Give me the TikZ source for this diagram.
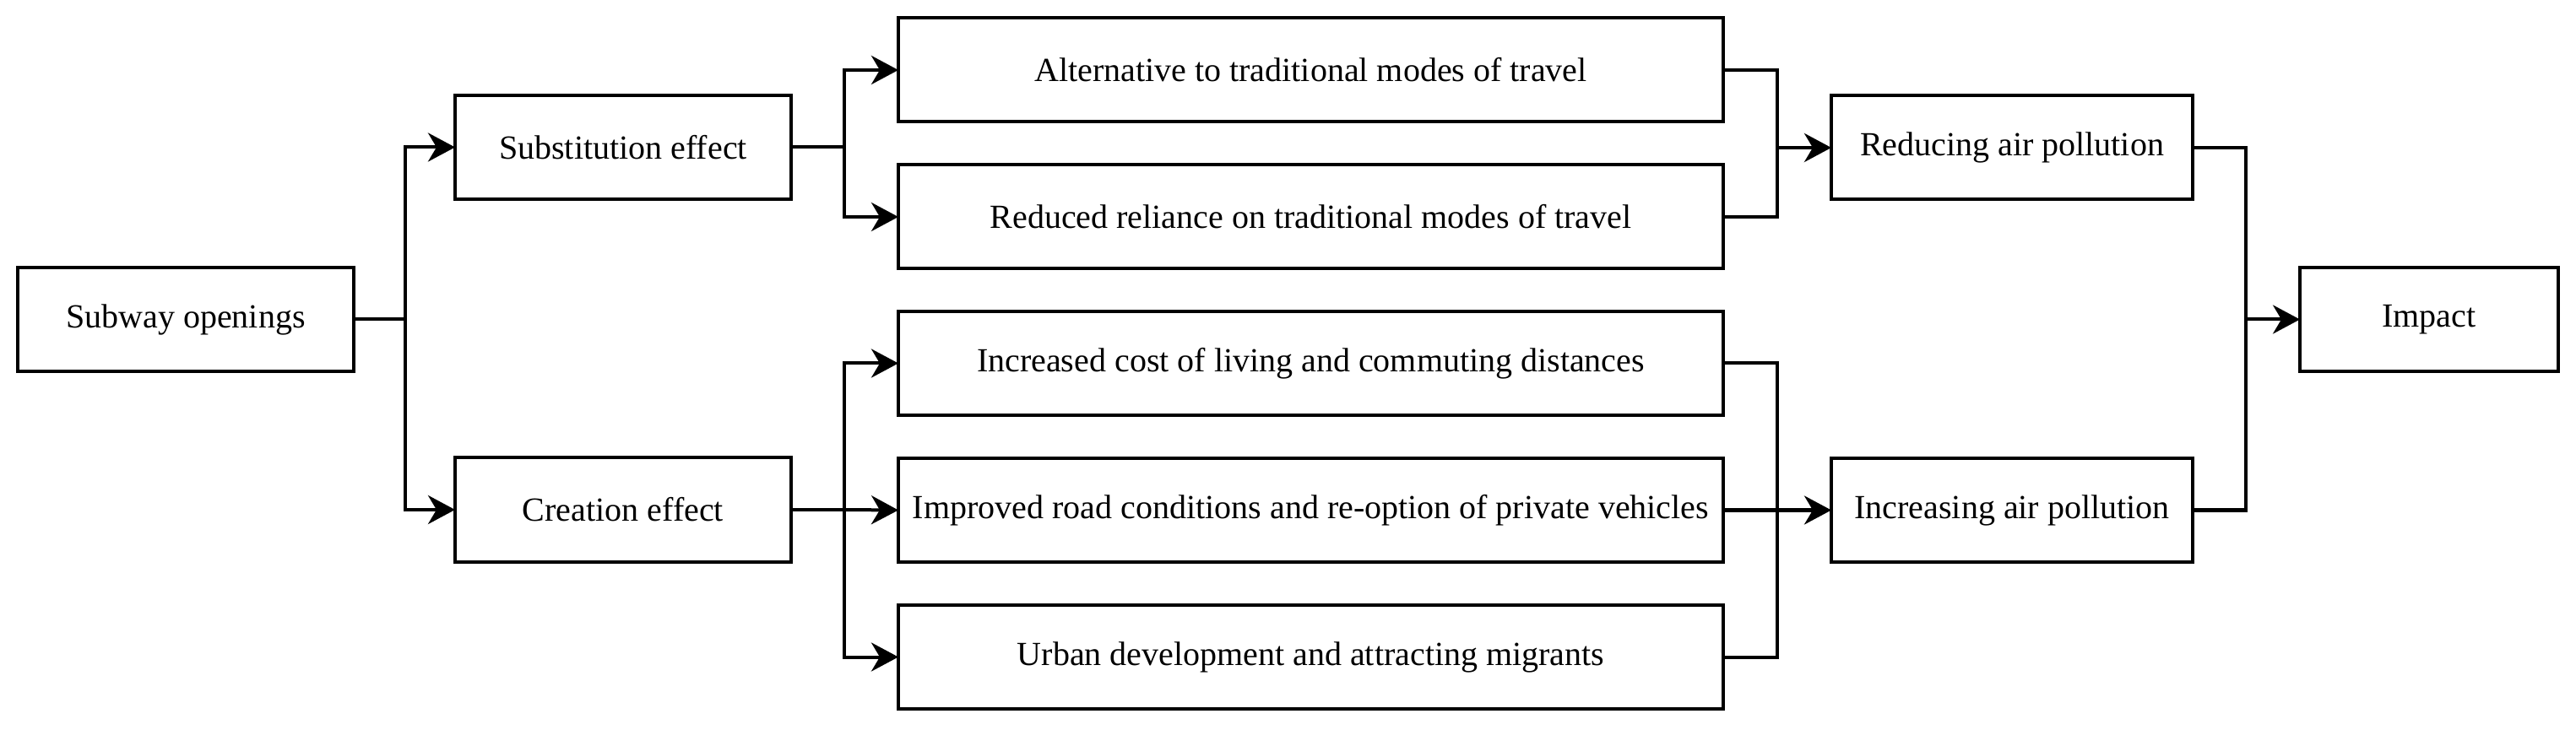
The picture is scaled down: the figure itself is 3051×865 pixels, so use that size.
\documentclass[tikz,border=0pt]{standalone}
\usepackage{fontspec}
\setmainfont{Liberation Serif}
\usetikzlibrary{arrows.meta}
\begin{document}
\begin{tikzpicture}[x=0.25pt,y=-0.25pt,
  box/.style={draw,line width=1pt,inner sep=0pt,outer sep=0pt,minimum height=30.75pt,font=\fontsize{10pt}{12pt}\selectfont},
  ln/.style={line width=1pt},
  arr/.style={line width=1pt,-{Stealth[length=8pt,width=8.5pt,inset=2.5pt]}}]
\useasboundingbox (0,0) rectangle (3051,865);
\node[box,minimum width=99.5pt] (sub) at (220,378.5) {Subway openings};
\node[box,minimum width=99.5pt] (subst) at (738,174.5) {Substitution effect};
\node[box,minimum width=99.5pt] (creat) at (738,604) {Creation effect};
\node[box,minimum width=244.25pt] (m1) at (1552.5,83) {Alternative to traditional modes of travel};
\node[box,minimum width=244.25pt] (m2) at (1552.5,257) {Reduced reliance on traditional modes of travel};
\node[box,minimum width=244.25pt] (m3) at (1552.5,430.5) {Increased cost of living and commuting distances};
\node[box,minimum width=244.25pt] (m4) at (1552.5,604.5) {Improved road conditions and re-option of private vehicles};
\node[box,minimum width=244.25pt] (m5) at (1552.5,778.5) {Urban development and attracting migrants};
\node[box,minimum width=107pt] (red) at (2383,175) {Reducing air pollution};
\node[box,minimum width=107pt] (inc) at (2383,604.5) {Increasing air pollution};
\node[box,minimum width=76.5pt] (imp) at (2877,378.5) {Impact};
\coordinate (j1) at (480,378.5);
\coordinate (ja) at (1000,174.5);
\coordinate (jb) at (1000,604);
\coordinate (jc) at (2105,175);
\coordinate (jd) at (2105,604.5);
\coordinate (je) at (2660,378.5);
\draw[ln] (sub.east) -- (j1);
\draw[arr] (j1) |- (subst.west);
\draw[arr] (j1) |- (creat.west);
\draw[ln] (subst.east) -- (ja);
\draw[arr] (ja) |- (m1.west);
\draw[arr] (ja) |- (m2.west);
\draw[ln] (creat.east) -- (jb);
\draw[arr] (jb) |- (m3.west);
\draw[arr] (jb) -- (m4.west);
\draw[arr] (jb) |- (m5.west);
\draw[ln] (m1.east) -| (jc);
\draw[ln] (m2.east) -| (jc);
\draw[arr] (jc) -- (red.west);
\draw[ln] (m3.east) -| (jd);
\draw[ln] (m5.east) -| (jd);
\draw[arr] (m4.east) -- (inc.west);
\draw[ln] (red.east) -| (je);
\draw[ln] (inc.east) -| (je);
\draw[arr] (je) -- (imp.west);
\end{tikzpicture}
\end{document}
